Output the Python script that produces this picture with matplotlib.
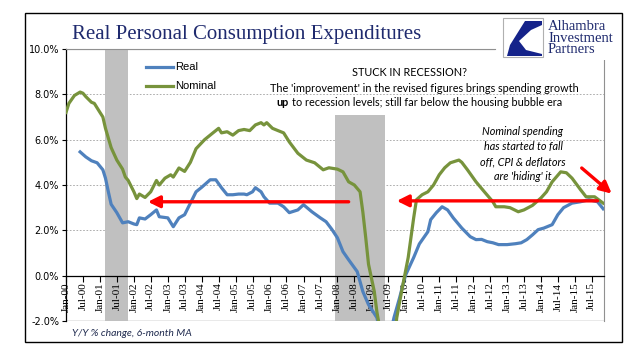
import numpy as np
import pandas as pd
import matplotlib
matplotlib.use('Agg')
import matplotlib.pyplot as plt
from matplotlib.patches import Rectangle, Polygon
from matplotlib.lines import Line2D

# month offsets from Jan-2000 and Y/Y % change values
nominal_month = [0, 1, 3, 5, 6, 7, 9, 10, 12, 13, 14, 16, 18, 20, 21, 22, 24, 25, 26,
                 28, 30, 32, 33, 35, 37, 38, 40, 42, 44, 46, 49, 52, 54, 55, 57, 59,
                 61, 63, 65, 67, 69, 70, 71, 73, 75, 77, 79, 82, 85, 88, 91, 93, 96,
                 98, 100, 102, 104, 105, 106, 107, 109, 110, 112, 114, 116, 117, 119,
                 121, 123, 124, 126, 128, 130, 132, 134, 136, 139, 140, 142, 145, 148,
                 151, 152, 155, 157, 160, 162, 165, 168, 170, 172, 175, 177, 179, 182,
                 184, 187, 190]
nominal = [7.2, 7.6, 7.95, 8.1, 8.05, 7.9, 7.65, 7.6, 7.2, 7.0, 6.5, 5.65, 5.1, 4.7,
           4.35, 4.2, 3.7, 3.4, 3.6, 3.45, 3.7, 4.2, 4.0, 4.3, 4.45, 4.35, 4.75, 4.6,
           5.0, 5.6, 6.0, 6.3, 6.5, 6.3, 6.35, 6.2, 6.4, 6.45, 6.4, 6.65, 6.75, 6.65,
           6.75, 6.5, 6.4, 6.3, 5.9, 5.4, 5.1, 4.98, 4.67, 4.76, 4.7, 4.58, 4.14, 4.0,
           3.7, 2.8, 1.67, 0.5, -0.7, -1.6, -3.0, -3.6, -3.0, -1.85, -0.5, 0.8, 2.55,
           3.35, 3.57, 3.7, 4.0, 4.45, 4.76, 4.98, 5.1, 5.0, 4.67, 4.14, 3.7, 3.26,
           3.04, 3.04, 3.0, 2.82, 2.9, 3.1, 3.43, 3.7, 4.14, 4.58, 4.54, 4.3, 3.8,
           3.48, 3.48, 3.2]

real_month = [5, 7, 9, 11, 13, 14, 15, 16, 18, 20, 22, 24, 25, 26, 28, 30, 32, 33, 36,
              38, 40, 42, 44, 46, 48, 51, 53, 55, 57, 59, 61, 63, 64, 66, 67, 69, 70,
              72, 75, 77, 79, 82, 84, 87, 90, 92, 94, 96, 98, 100, 103, 105, 107, 110,
              112, 113, 114, 116, 118, 120, 123, 125, 128, 129, 131, 133, 135, 137,
              140, 143, 145, 147, 149, 151, 153, 156, 159, 161, 163, 165, 167, 169,
              172, 174, 176, 179, 182, 185, 188, 190]
real = [5.46, 5.24, 5.07, 4.98, 4.67, 4.3, 3.7, 3.15, 2.78, 2.33, 2.38, 2.28, 2.25,
        2.55, 2.5, 2.69, 2.9, 2.6, 2.55, 2.16, 2.55, 2.69, 3.2, 3.7, 3.9, 4.23, 4.23,
        3.88, 3.57, 3.57, 3.6, 3.6, 3.57, 3.7, 3.88, 3.7, 3.48, 3.2, 3.2, 3.04, 2.78,
        2.9, 3.13, 2.82, 2.55, 2.38, 2.05, 1.67, 1.06, 0.7, 0.18, -0.7, -1.28, -1.85,
        -3.0, -3.4, -3.0, -1.85, -0.97, 0.0, 0.8, 1.4, 1.94, 2.47, 2.78, 3.04, 2.9,
        2.55, 2.1, 1.72, 1.59, 1.6, 1.5, 1.45, 1.37, 1.37, 1.41, 1.45, 1.59, 1.8,
        2.03, 2.1, 2.25, 2.69, 3.0, 3.2, 3.26, 3.35, 3.26, 2.95]

recessions = [('2001-03-01', '2001-11-01', 10.0), ('2007-12-01', '2009-06-01', 7.1)]
arrows = [(('2008-05-01', 3.26), ('2002-06-01', 3.26)),
          (('2015-09-01', 3.3), ('2009-10-01', 3.3)),
          (('2015-03-15', 4.75), ('2016-02-01', 3.62))]
yticks = [-2, 0, 2, 4, 6, 8, 10]

BLUE = '#4F81BD'
GREEN = '#77933C'
NAVY = '#1F2A6E'


def to_date(m):
    return pd.Timestamp(2000 + m // 12, m % 12 + 1, 1)


nom_x = [to_date(m) for m in nominal_month]
real_x = [to_date(m) for m in real_month]

W, H = 641, 358
fig = plt.figure(figsize=(W / 100, H / 100), dpi=100)
fig.set_facecolor('w')


def px(x, y):
    return x / W, 1 - y / H


ax = fig.add_axes([66 / W, 1 - 321 / H, (604 - 66) / W, (321 - 49) / H])
ax.spines['bottom'].set_position(('data', 0))
ax.spines['top'].set_visible(False)
ax.spines['right'].set_color('#909090')
ax.spines['left'].set_linewidth(0.9)
ax.spines['bottom'].set_linewidth(0.9)

for a, b, top in recessions:
    ax.fill_between([pd.Timestamp(a), pd.Timestamp(b)], -2, top, color='#C0C0C0',
                    lw=0, zorder=1)

for v in [2, 4, 6, 8]:
    ax.axhline(v, color='#A0A0A0', lw=0.6, ls=(0, (2, 2)), zorder=0)
ax.axhline(10, color='#909090', lw=0.8, zorder=0)
ax.axhline(-2, color='#909090', lw=1.0, zorder=0)

ax.plot(real_x, real, color=BLUE, lw=2.3, zorder=3)
ax.plot(nom_x, nominal, color=GREEN, lw=2.3, zorder=3)

for (x0, y0), (x1, y1) in arrows:
    ax.annotate('', xy=(pd.Timestamp(x1), y1), xytext=(pd.Timestamp(x0), y0),
                arrowprops=dict(arrowstyle='-|>,head_length=0.7,head_width=0.35',
                                color='#FF0000', lw=2.4, shrinkA=0, shrinkB=0),
                annotation_clip=False, zorder=6)

ax.set_ylim(-2, 10)
ax.set_xlim(pd.Timestamp('2000-01-01'), pd.Timestamp('2015-11-10'))
ax.set_yticks(yticks)
ax.set_yticklabels(['%.1f%%' % v for v in yticks], fontsize=7, family='DejaVu Sans')
ax.tick_params(axis='y', direction='out', length=3, width=0.8, pad=2)

ticks = pd.date_range('2000-01-01', '2015-07-01', freq='6MS')
ax.set_xticks(ticks)
ax.set_xticklabels([t.strftime('%b-%y') for t in ticks], rotation=90,
                   fontsize=8, family='Liberation Serif', va='top', ha='center')
ax.tick_params(axis='x', direction='out', length=4, width=0.8, pad=1)

# legend drawn by hand to sit where the reference has it
for yy, col, lab in [(67, BLUE, 'Real'), (86, GREEN, 'Nominal')]:
    fig.add_artist(Line2D([146 / W, 173 / W], [1 - yy / H] * 2, color=col, lw=2.3))
    fig.text(*px(175, yy), lab, ha='left', va='center', fontsize=8,
             family='Liberation Sans')

# annotation texts
fig.text(*px(410, 72), 'STUCK IN RECESSION?', ha='center', va='center',
         fontsize=7.8, family='Lato')
fig.text(*px(424, 88), "The 'improvement' in the revised figures brings spending growth",
         ha='center', va='center', fontsize=7.8, family='Lato')
fig.text(*px(276, 103), 'up', ha='left', va='center', fontsize=7.8,
         family='Lato', weight='bold')
fig.text(*px(292, 103), "to recession levels; still far below the housing bubble era",
         ha='left', va='center', fontsize=7.8, family='Lato')
fig.text(*px(523, 154), "Nominal spending\nhas started to fall\noff, CPI & deflators\nare 'hiding' it",
         ha='center', va='center', fontsize=7.8, family='Lato', style='italic',
         linespacing=1.45)

fig.text(*px(72, 333), 'Y/Y % change, 6-month MA', ha='left', va='center',
         fontsize=7.5, family='Lato', style='italic', color='#1F2A4E')

fig.text(*px(72, 34), 'Real Personal Consumption Expenditures', ha='left',
         va='center', fontsize=15, family='Liberation Serif', color=NAVY)

# logo
lax = fig.add_axes([495 / W, 1 - 60 / H, (622 - 495) / W, (60 - 14) / H])
lax.set_xlim(0, 127)
lax.set_ylim(46, 0)
lax.axis('off')
lax.add_patch(Rectangle((0, 0), 127, 46, color='w', zorder=0))
lax.add_patch(Rectangle((8, 4), 40, 39, fill=False, ec='#B0B0B0', lw=0.8))
lax.add_patch(Polygon([(30, 7), (47, 7), (47, 11), (36, 16), (24, 27), (31, 36),
                       (47, 40), (47, 42), (12, 42), (15, 31)], closed=True,
                      color='#15238A', lw=0))
lax.text(53, 24, 'Alhambra\nInvestment\nPartners', ha='left', va='center',
         fontsize=10.5, family='Liberation Serif', color=NAVY, linespacing=0.82)

# outer frame
fig.add_artist(Rectangle(px(25, 342), (622 - 25) / W, (342 - 13) / H,
                         transform=fig.transFigure, fill=False, ec='k', lw=1.0))
# title underline
fig.add_artist(Line2D([66 / W, 495 / W], [1 - 49 / H] * 2, color='#909090', lw=0.8))

fig.savefig('out.png', dpi=100)
